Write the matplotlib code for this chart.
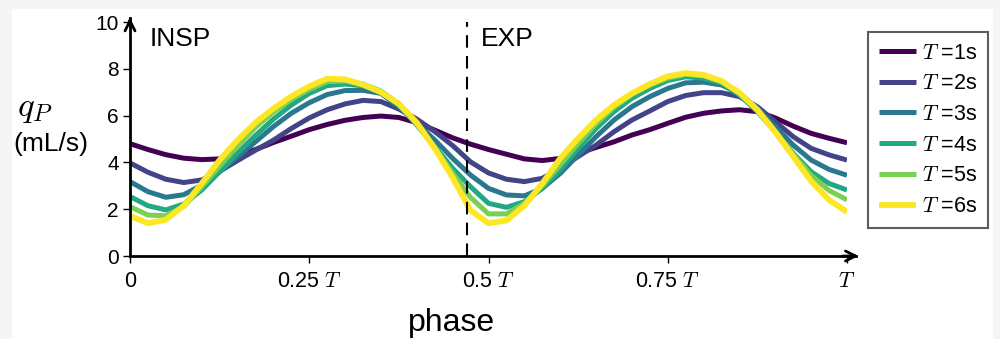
import numpy as np
import matplotlib
matplotlib.use("Agg")
from matplotlib import pyplot as plt
from matplotlib.patches import Rectangle

plt.rcParams['font.family'] = ['Liberation Sans', 'DejaVu Sans']
plt.rcParams['mathtext.fontset'] = 'cm'

# phase grid (fraction of the breathing period T)
phase = np.linspace(0, 1, 41)

periods = ["1", "2", "3", "4", "5", "6"]
colors = ["#440154", "#414487", "#2a788e", "#22a884", "#7ad151", "#fde725"]

# q_P (mL/s), one list per period
q_T1 = [4.80, 4.55, 4.33, 4.18, 4.12, 4.15, 4.30, 4.55, 4.85, 5.12,
        5.40, 5.62, 5.80, 5.92, 5.98, 5.92, 5.70, 5.38, 5.05, 4.78,
        4.55, 4.35, 4.15, 4.08, 4.17, 4.39, 4.64, 4.88, 5.17, 5.40,
        5.67, 5.93, 6.10, 6.20, 6.25, 6.17, 5.90, 5.55, 5.24, 5.03, 4.84]
q_T2 = [3.98, 3.58, 3.28, 3.14, 3.25, 3.62, 4.08, 4.52, 4.95, 5.45,
        5.90, 6.25, 6.50, 6.65, 6.60, 6.28, 5.85, 5.32, 4.72, 4.02,
        3.55, 3.28, 3.18, 3.32, 3.75, 4.25, 4.74, 5.31, 5.81, 6.20,
        6.60, 6.86, 6.98, 6.98, 6.81, 6.38, 5.74, 5.10, 4.60, 4.32, 4.10]
q_T3 = [3.18, 2.75, 2.51, 2.62, 3.03, 3.60, 4.24, 4.88, 5.53, 6.10,
        6.55, 6.90, 7.07, 7.08, 6.95, 6.38, 5.67, 4.96, 4.17, 3.46,
        2.89, 2.61, 2.57, 2.89, 3.53, 4.32, 5.10, 5.81, 6.38, 6.81,
        7.16, 7.40, 7.43, 7.31, 6.95, 6.31, 5.53, 4.74, 4.10, 3.70, 3.45]
q_T4 = [2.54, 2.15, 1.97, 2.22, 2.82, 3.60, 4.40, 5.15, 5.85, 6.45,
        6.95, 7.28, 7.35, 7.27, 7.02, 6.45, 5.60, 4.67, 3.75, 2.96,
        2.25, 2.08, 2.32, 2.89, 3.68, 4.60, 5.45, 6.17, 6.74, 7.16,
        7.50, 7.66, 7.60, 7.38, 6.88, 6.17, 5.31, 4.39, 3.60, 3.10, 2.82]
q_T5 = [2.11, 1.75, 1.72, 2.12, 2.95, 3.85, 4.70, 5.50, 6.15, 6.70,
        7.12, 7.45, 7.48, 7.35, 7.05, 6.50, 5.65, 4.62, 3.55, 2.50,
        1.80, 1.80, 2.25, 3.00, 3.90, 4.80, 5.65, 6.35, 6.90, 7.30,
        7.60, 7.76, 7.70, 7.45, 6.95, 6.22, 5.32, 4.35, 3.45, 2.80, 2.40]
q_T6 = [1.72, 1.40, 1.55, 2.15, 3.10, 4.10, 4.95, 5.70, 6.30, 6.82,
        7.25, 7.58, 7.55, 7.32, 7.00, 6.50, 5.70, 4.60, 3.35, 1.95,
        1.40, 1.52, 2.15, 3.10, 4.17, 5.03, 5.81, 6.45, 6.95, 7.35,
        7.68, 7.82, 7.74, 7.48, 6.98, 6.25, 5.30, 4.25, 3.20, 2.40, 1.88]
series = [q_T1, q_T2, q_T3, q_T4, q_T5, q_T6]

switch_phase = 0.47
xticks = [0, 0.25, 0.5, 0.75, 1.0]
xticklabels = ["0", r"0.25 $T$", r"0.5 $T$", r"0.75 $T$", r"$T$"]
yticks = [0, 2, 4, 6, 8, 10]

fig = plt.figure(figsize=(10, 3.39), dpi=100, facecolor="#f5f5f5")
fig.patches.append(Rectangle((0.012, 0.0), 0.981, 0.972, transform=fig.transFigure,
                             facecolor="white", edgecolor="none", zorder=-10))
ax = fig.add_axes([0.13, 0.2448, 0.717, 0.6903])
ax.set_facecolor("none")
ax.set_zorder(2)

for q, per, c in zip(series, periods, colors):
    ax.plot(phase, q, color=c, lw=3.6 if per != "6" else 4.2,
            solid_capstyle="butt", solid_joinstyle="round", label=r"$T$ =" + per + "s")

ax.axvline(switch_phase, ymin=0, ymax=1.0, color="black", lw=1.5, dashes=(6, 4))

ax.set_xlim(0, 1.0)
ax.set_ylim(0, 10)
ax.spines["top"].set_visible(False)
ax.spines["right"].set_visible(False)
ax.spines["left"].set_linewidth(2)
ax.spines["bottom"].set_linewidth(2)
ax.spines["left"].set_bounds(0, 10.15)
ax.spines["bottom"].set_bounds(0, 1.012)

# arrow heads on the axes
ax.annotate("", xy=(1.02, 0), xytext=(0.99, 0), xycoords=("axes fraction", "data"),
            arrowprops=dict(arrowstyle="->", lw=2, color="black", mutation_scale=18),
            annotation_clip=False)
ax.annotate("", xy=(0, 10.3), xytext=(0, 9.9), xycoords="data",
            arrowprops=dict(arrowstyle="->", lw=2, color="black", mutation_scale=18),
            annotation_clip=False)

ax.set_xticks(xticks)
ax.set_xticklabels(xticklabels, fontsize=15.5)
ax.set_yticks(yticks)
ax.set_yticklabels([str(v) for v in yticks], fontsize=15)
ax.tick_params(axis="both", length=5, width=1, direction="out")
ax.tick_params(axis="x", pad=6)
ax.tick_params(axis="y", pad=3)

ax.text(0.028, 9.27, "INSP", fontsize=19, va="center", ha="left")
ax.text(switch_phase + 0.02, 9.27, "EXP", fontsize=19, va="center", ha="left")

fig.text(0.452, 0.003, "phase", fontsize=23, ha="center", va="bottom")
fig.text(0.035, 0.68, r"$q_P$", fontsize=25, ha="center", va="center")
fig.text(0.051, 0.575, "(mL/s)", fontsize=19, ha="center", va="center")

leg = ax.legend(loc="upper left", bbox_to_anchor=(0.868, 0.906), bbox_transform=fig.transFigure,
                fontsize=15.5, frameon=True, fancybox=False, edgecolor="#333333",
                handlelength=1.75, handletextpad=0.25, labelspacing=0.45, borderpad=0.5,
                borderaxespad=0)
leg.get_frame().set_linewidth(1.5)

fig.savefig("out.png", dpi=100, facecolor=fig.get_facecolor())
